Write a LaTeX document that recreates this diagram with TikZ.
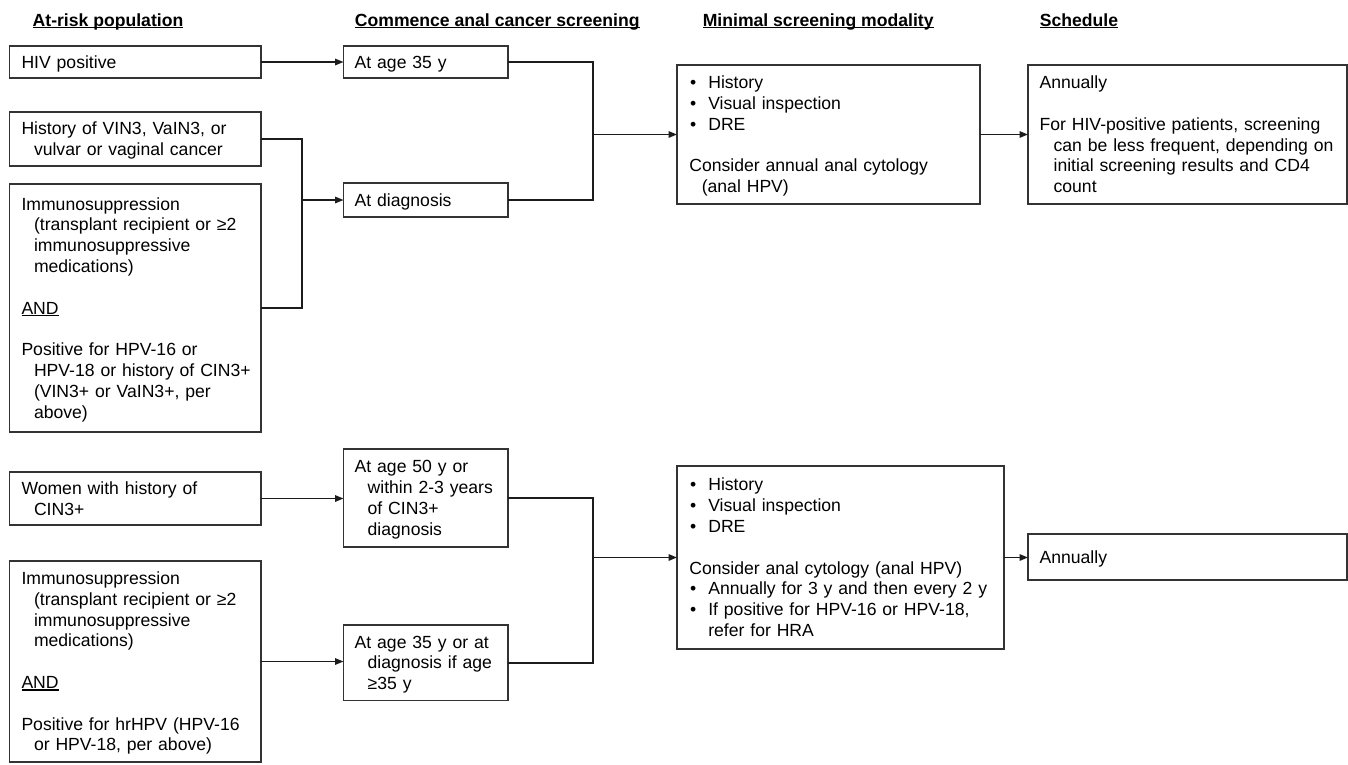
\documentclass[tikz,border=0pt]{standalone}
\usepackage{fontspec}
\setmainfont{Liberation Sans}
\usetikzlibrary{arrows.meta}
\definecolor{boxgray}{HTML}{333333}
\definecolor{linegray}{HTML}{1C1C1C}
\newsavebox\ulbox
\newcommand\ulin[1]{\leavevmode\sbox\ulbox{#1}\rlap{\rule[-2.2pt]{\wd\ulbox}{1.3pt}}\usebox\ulbox}
\newcommand\bul{\leavevmode\makebox[19pt][l]{\hspace*{0.7pt}•}}
\newcommand\ind{\hspace*{12.5pt}}
\newcommand\fs{\rule[-3.7pt]{0pt}{19.6pt}}
\tikzset{
  box/.style={draw=boxgray, line width=1.5pt, anchor=north west, outer sep=0pt,
    inner xsep=12pt, inner ysep=0pt, align=left,
    font=\fontsize{17.6}{20.8}\selectfont,
    execute at begin node={\fs}, execute at end node={\fs}},
  conn/.style={line width=1.5pt, draw=linegray},
  arr/.style={conn, -{Triangle[length=8.5pt,width=6.5pt]}},
  hdr/.style={anchor=base west, inner sep=0pt,
    font=\bfseries\fontsize{17.6}{20.8}\selectfont}
}
\begin{document}
\begin{tikzpicture}[x=1pt,y=-1pt]
\fill[white] (0,0) rectangle (1348,764);
\useasboundingbox (0,0) rectangle (1348,764);

% headers
\node[hdr] (h1) at (32.5,26) {\ulin{At-risk population}};
\node[hdr] (h2) at (354.7,26) {\ulin{Commence anal cancer screening}};
\node[hdr] (h3) at (702.6,26) {\ulin{Minimal screening modality}};
\node[hdr] (h4) at (1039.6,26) {\ulin{Schedule}};

% column 1 (top)
\node[box, minimum width=251.5pt, minimum height=32pt, text width=227.5pt] (hiv) at (9.5,46) {HIV positive};
\node[box, minimum width=251.5pt, minimum height=54pt, text width=227.5pt] (vin) at (9.5,112)
  {History of VIN3, VaIN3, or\\ \ind vulvar or vaginal cancer};
\node[box, minimum width=251.5pt, minimum height=248pt, text width=227.5pt] (imm1) at (9.5,184)
  {Immunosuppression\\ \ind(transplant recipient or ≥2\\ \ind immunosuppressive\\ \ind medications)\\[20.8pt]
   \ulin{AND}\\[20.8pt]
   Positive for HPV-16 or\\ \ind\mbox{HPV-18 or history of CIN3+}\\ \ind(VIN3+ or VaIN3+, per\\ \ind above)};

% column 2 (top)
\node[box, inner xsep=11.2pt, minimum width=164.5pt, minimum height=32pt, text width=142.1pt] (age35) at (343.5,46) {At age 35 y};
\node[box, inner xsep=11.2pt, minimum width=164.5pt, minimum height=34pt, text width=142.1pt] (diag) at (343.5,183) {At diagnosis};

% column 3, 4 (top)
\node[box, inner xsep=12.3pt, minimum width=303pt, minimum height=139pt, text width=278.4pt] (mod1) at (677,65)
  {\bul History\\ \bul Visual inspection\\ \bul DRE\\[20.8pt] Consider annual anal cytology\\ \ind(anal HPV)};
\node[box, inner xsep=11.6pt, minimum width=319pt, minimum height=139pt, text width=295.8pt] (sch1) at (1028,65)
  {Annually\\[20.8pt] For HIV-positive patients, screening\\ \hspace*{14pt}can be less frequent, depending on\\ \hspace*{14pt}initial screening results and CD4\\ \hspace*{14pt}count};

% column 1 (bottom)
\node[box, minimum width=251.5pt, minimum height=53pt, text width=227.5pt] (women) at (9.5,472)
  {Women with history of\\ \ind CIN3+};
\node[box, minimum width=251.5pt, minimum height=201pt, text width=227.5pt] (imm2) at (9.5,561)
  {Immunosuppression\\ \ind(transplant recipient or ≥2\\ \ind immunosuppressive\\ \ind medications)\\[20.8pt]
   \ulin{AND}\\[20.8pt]
   Positive for hrHPV (HPV-16\\ \ind or HPV-18, per above)};

% column 2 (bottom)
\node[box, inner xsep=11.2pt, minimum width=164.5pt, minimum height=98pt, text width=142.1pt] (age50) at (343.5,449)
  {At age 50 y or\\ \hspace*{13pt}within 2-3 years\\ \hspace*{13pt}of CIN3+\\ \hspace*{13pt}diagnosis};
\node[box, inner xsep=11.2pt, minimum width=164.5pt, minimum height=75.5pt, text width=142.1pt] (age35b) at (343.5,625)
  {At age 35 y or at\\ \hspace*{13pt}diagnosis if age\\ \hspace*{13pt}≥35 y};

% column 3, 4 (bottom)
\node[box, inner xsep=12.3pt, minimum width=327pt, minimum height=183pt, text width=302.4pt] (mod2) at (677,466)
  {\bul History\\ \bul Visual inspection\\ \bul DRE\\[20.8pt] Consider anal cytology (anal HPV)\\
   \bul Annually for 3 y and then every 2 y\\ \bul If positive for HPV-16 or HPV-18,\\ \hspace*{19pt}refer for HRA};
\node[box, inner xsep=11.6pt, minimum width=319pt, minimum height=46pt, text width=295.8pt] (sch2) at (1028,534) {Annually};

% junction columns
\coordinate (c1) at (593,0);
\coordinate (c2) at (302,0);

% top connectors
\draw[arr] (hiv.east) -- (hiv.east -| age35.west);
\draw[conn] (age35.east) -| (c1 |- mod1.west) |- (diag.east);
\draw[arr] (c1 |- mod1.west) -- (mod1.west);
\draw[conn] (vin.east) -| (c2 |- diag.west) |- (imm1.east);
\draw[arr] (c2 |- diag.west) -- (diag.west);
\draw[arr] (mod1.east) -- (mod1.east -| sch1.west);

% bottom connectors
\draw[arr] (women.east) -- (women.east -| age50.west);
\draw[arr] (imm2.east) -- (imm2.east -| age35b.west);
\draw[conn] (age50.east) -| (c1 |- mod2.west) |- (age35b.east);
\draw[arr] (c1 |- mod2.west) -- (mod2.west);
\draw[arr] (mod2.east) -- (mod2.east -| sch2.west);
\end{tikzpicture}
\end{document}
